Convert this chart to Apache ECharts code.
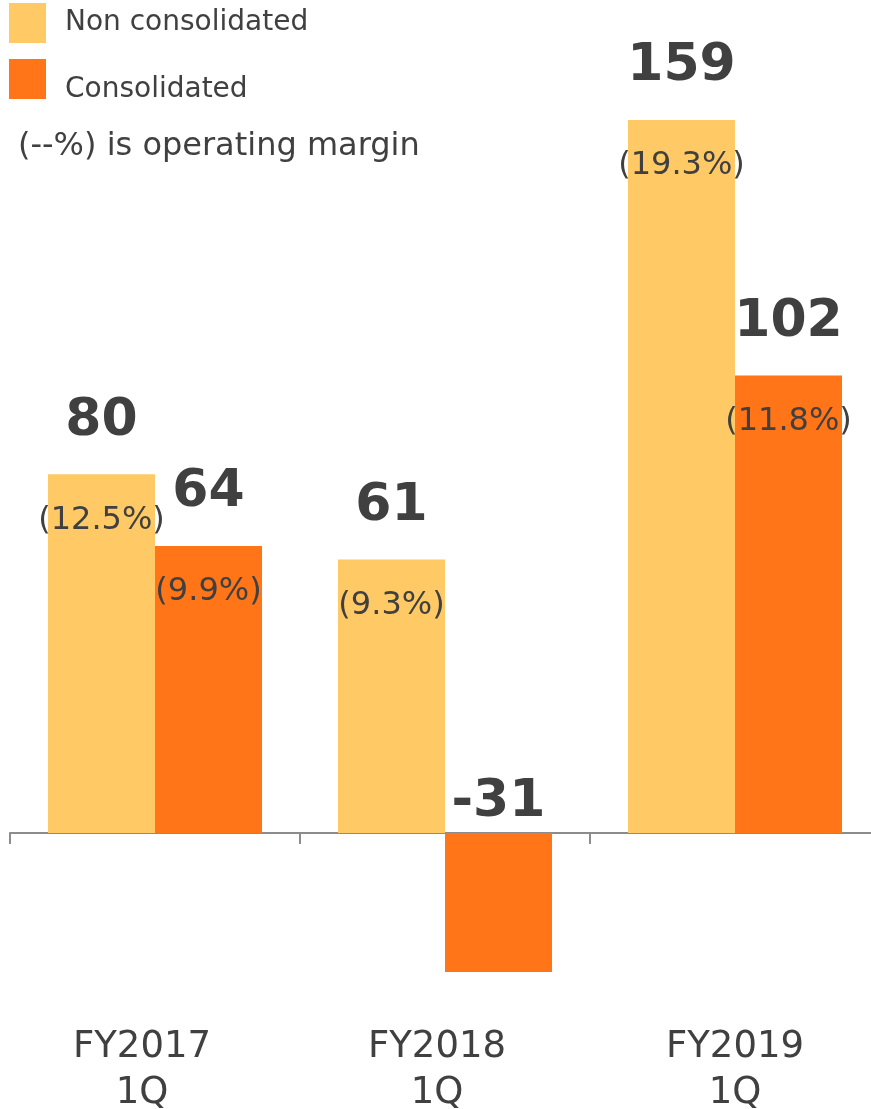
<!DOCTYPE html>
<html>
<head>
<meta charset="utf-8">
<script src="https://cdn.jsdelivr.net/npm/echarts@6/dist/echarts.min.js"></script>
<style>
  html, body { margin: 0; padding: 0; background: #fff; }
  #chart { width: 871px; height: 1109px; }
</style>
</head>
<body>
<div id="chart"></div>
<script>
var categories = ['FY2017\n1Q', 'FY2018\n1Q', 'FY2019\n1Q'];
var nonConsolidated = [80, 61, 159];
var consolidated = [64, -31, 102];
var nonMargin = ['12.5%', '9.3%', '19.3%'];
var conMargin = ['9.9%', null, '11.8%'];

var FONT = 'DejaVu Sans';
var TXT = '#404040';

// 数字 + 利益率の二段ラベル
var richStyle = {
  v: { fontSize: 52, fontWeight: 'bold', color: TXT, fontFamily: FONT, lineHeight: 60 },
  p: { fontSize: 32, color: TXT, fontFamily: FONT, lineHeight: 138 }
};

function buildData(values, margins) {
  var out = [];
  for (var i = 0; i < values.length; i++) {
    var item = { value: values[i] };
    if (margins[i] == null) {
      item.label = {
        position: 'top',
        distance: 1,
        offset: [0, 0],
        formatter: '{v|{c}}'
      };
    }
    out.push(item);
  }
  return out;
}

function makeLabel(margins) {
  return {
    show: true,
    position: 'top',
    distance: 0,
    offset: [0, 115],
    rich: richStyle,
    formatter: function (p) {
      var m = margins[p.dataIndex];
      if (m == null) return '{v|' + p.value + '}';
      return '{v|' + p.value + '}\n{p|(' + m + ')}';
    }
  };
}

var chart = echarts.init(document.getElementById('chart'));
chart.setOption({
  animation: false,
  color: ['#FFCA66', '#FF7518'],
  legend: {
    orient: 'vertical',
    left: 9,
    top: 3,
    padding: 0,
    itemWidth: 37,
    itemHeight: 40,
    itemGap: 16,
    icon: 'rect',
    selectedMode: false,
    textStyle: {
      fontSize: 28, color: TXT, fontFamily: FONT,
      rich: {
        a: { fontSize: 28, color: TXT, fontFamily: FONT, padding: [0, 0, 0, 14] },
        b: { fontSize: 28, color: TXT, fontFamily: FONT, padding: [22, 0, 0, 14] }
      }
    },
    formatter: function (name) {
      return name === 'Consolidated' ? '{b|' + name + '}' : '{a|' + name + '}';
    },
    data: ['Non consolidated', 'Consolidated']
  },
  graphic: [{
    type: 'text',
    left: 18,
    top: 131,
    style: { text: '(--%) is operating margin', fontSize: 32, fill: TXT, fontFamily: FONT }
  }],
  grid: { left: 10, width: 870, top: 25.7, bottom: 96.6, containLabel: false, outerBoundsMode: 'none' },
  xAxis: {
    type: 'category',
    data: categories,
    axisLine: { onZero: true, lineStyle: { color: '#8c8c8c', width: 2 } },
    axisTick: { show: true, interval: 0, length: 11, lineStyle: { color: '#8c8c8c', width: 2 } },
    axisLabel: {
      interval: 0,
      margin: 12, fontSize: 37, lineHeight: 46, color: TXT, fontFamily: FONT,
      rich: {
        c0: { fontSize: 37, lineHeight: 46, color: TXT, fontFamily: FONT, padding: [0, 26, 0, 0] },
        c1: { fontSize: 37, lineHeight: 46, color: TXT, fontFamily: FONT, padding: [0, 16, 0, 0] },
        c2: { fontSize: 37, lineHeight: 46, color: TXT, fontFamily: FONT }
      },
      formatter: function (value, index) {
        var parts = value.split('\n');
        return '{c' + index + '|' + parts[0] + '}\n{c' + index + '|' + parts[1] + '}';
      }
    }
  },
  yAxis: {
    type: 'value',
    min: -40,
    max: 180,
    show: false,
    splitLine: { show: false }
  },
  series: [
    {
      name: 'Non consolidated',
      type: 'bar',
      barWidth: 107,
      barGap: 0,
      label: makeLabel(nonMargin),
      data: buildData(nonConsolidated, nonMargin)
    },
    {
      name: 'Consolidated',
      type: 'bar',
      barWidth: 107,
      barGap: 0,
      label: makeLabel(conMargin),
      data: buildData(consolidated, conMargin)
    }
  ]
});
</script>
</body>
</html>
